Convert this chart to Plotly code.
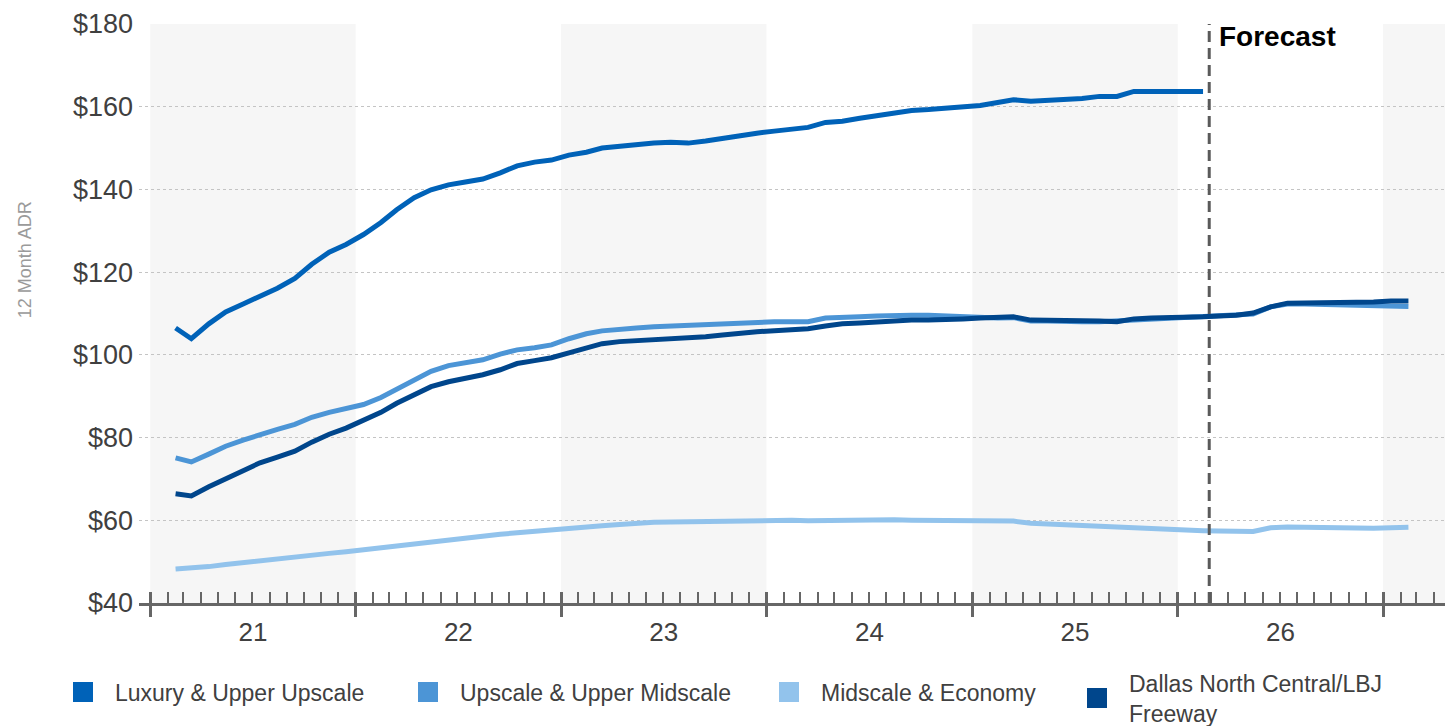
import plotly.graph_objects as go
import pandas as pd

# ---------------- data ----------------
months = pd.date_range("2021-02-01", periods=73, freq="MS") + pd.Timedelta(days=14)

series_names = ["Luxury & Upper Upscale", "Upscale & Upper Midscale",
                "Midscale & Economy", "Dallas North Central/LBJ<br>Freeway"]

luxury = [106.5, 103.9, 107.5, 110.4, 112.3, 114.2, 116.1, 118.5, 121.9, 124.8,
          126.7, 129.1, 132.0, 135.1, 138.0, 139.9, 141.1, 141.8, 142.5, 144.0,
          145.7, 146.6, 147.1, 148.3, 149.0, 150.0, 150.5, 150.9, 151.2, 151.4,
          151.2, 151.7, 152.4, 153.1, 153.6, 154.1, 154.5, 155.0, 156.2, 156.5,
          157.2, 157.9, 158.4, 159.1, 159.3, 159.6, 160.1, 160.3, 161.0, 161.7,
          161.3, 161.5, 161.7, 162.0, 162.5, 162.5, 163.7, 163.7, 163.7, 163.4,
          163.7]

upscale = [75.1, 74.1, 76.0, 77.9, 79.4, 80.8, 82.0, 83.2, 84.9, 86.1,
           87.1, 88.0, 89.7, 91.6, 93.8, 96.0, 97.4, 98.1, 98.8, 100.2,
           101.2, 101.7, 102.4, 103.9, 105.1, 105.8, 106.3, 106.5, 106.8, 107.0,
           107.0, 107.2, 107.5, 107.7, 108.0, 108.0, 108.0, 108.0, 108.9, 108.9,
           109.2, 109.4, 109.6, 109.6, 109.6, 109.4, 109.2, 108.9, 108.9, 109.0,
           108.2, 108.2, 108.0, 108.0, 108.0, 108.2, 108.4, 108.7, 108.9, 109.0,
           109.2, 109.4, 109.6, 109.9, 111.6, 112.3, 112.3, 112.2, 112.1, 112.0,
           111.9, 111.8, 111.7]

midscale = [48.2, 48.4, 48.8, 49.3, 49.8, 50.3, 50.7, 51.1, 51.5, 52.0,
            52.4, 52.9, 53.4, 53.9, 54.4, 54.9, 55.4, 55.8, 56.2, 56.6,
            57.0, 57.4, 57.8, 58.1, 58.4, 58.7, 59.0, 59.3, 59.5, 59.6,
            59.7, 59.8, 59.9, 60.0, 60.1, 60.1, 60.0, 59.9, 60.0, 60.1,
            60.1, 60.2, 60.1, 60.0, 60.0, 60.0, 60.0, 60.0, 59.9, 59.8,
            59.3, 59.1, 58.9, 58.7, 58.5, 58.3, 58.1, 57.9, 57.7, 57.6,
            57.5, 57.4, 57.3, 57.3, 58.2, 58.4, 58.3, 58.2, 58.1, 58.1,
            58.1, 58.2, 58.3]

dallas = [66.4, 65.9, 68.1, 70.0, 71.9, 73.9, 75.3, 76.7, 78.9, 80.8,
          82.3, 84.2, 86.1, 88.3, 90.4, 92.3, 93.5, 94.3, 95.2, 96.4,
          97.9, 98.6, 99.3, 100.5, 101.7, 102.7, 103.2, 103.4, 103.6, 103.9,
          104.1, 104.4, 104.8, 105.3, 105.6, 105.8, 106.0, 106.3, 107.0, 107.5,
          107.7, 108.0, 108.2, 108.4, 108.4, 108.7, 108.7, 108.9, 108.9, 109.2,
          108.4, 108.4, 108.2, 108.2, 108.2, 108.0, 108.7, 108.9, 108.9, 109.2,
          109.2, 109.4, 109.6, 110.1, 111.6, 112.5, 112.5, 112.5, 112.8, 112.8,
          112.8, 113.0, 113.0]

shaded_years = [2021, 2023, 2025, 2027]
forecast_date = "2026-02-26"
x_range = ["2020-12-12", "2027-04-21"]
y_ticks = [40, 60, 80, 100, 120, 140, 160, 180]

colors = ["#0062B8", "#4C95D6", "#92C3EC", "#00468C"]

font_family = "Liberation Sans, Arial, sans-serif"

# ---------------- figure ----------------
fig = go.Figure()
all_series = [luxury, upscale, midscale, dallas]
for name, vals, col in zip(series_names, all_series, colors):
    fig.add_trace(go.Scatter(
        x=months[:len(vals)], y=vals, mode="lines",
        line=dict(color=col, width=5), showlegend=False, hoverinfo="skip"))

legend_ids = ["legend", "legend2", "legend3", "legend4"]
for name, col, lid in zip(series_names, colors, legend_ids):
    fig.add_trace(go.Scatter(
        x=[None], y=[None], mode="markers", name=name, legend=lid,
        marker=dict(symbol="square", size=16, color=col,
                    line=dict(color=col, width=4))))

# shaded year bands
for yr in shaded_years:
    fig.add_shape(type="rect", xref="x", yref="paper",
                  x0=f"{yr}-01-01", x1=f"{yr + 1}-01-01", y0=0, y1=1,
                  fillcolor="#f6f6f6", line=dict(width=0), layer="below")

# forecast line
fig.add_shape(type="line", xref="x", yref="paper",
              x0=forecast_date, x1=forecast_date, y0=0, y1=1,
              line=dict(color="#5a5a5a", width=3, dash="11px,6px"), layer="above")
fig.add_annotation(x=forecast_date, y=0.971, xref="x", yref="paper",
                   text="<b>Forecast</b>", showarrow=False, xanchor="left",
                   yanchor="middle", xshift=8, yshift=4,
                   font=dict(size=28, color="#000000", family=font_family))

# y axis title (annotation so it sits where the reference has it)
fig.add_annotation(x=(25 - 139) / 1306, y=(603 - 257) / 583,
                   xref="paper", yref="paper",
                   text="12 Month ADR", showarrow=False, textangle=-90,
                   xanchor="center", yanchor="middle",
                   font=dict(size=18, color="#9a9a9a", family=font_family))

legend_x = [73, 418, 779, 1087]
legend_y = [692, 692, 692, 698]
layout_legends = {}
for lid, lx, ly in zip(legend_ids, legend_x, legend_y):
    layout_legends[lid] = dict(
        xref="container", yref="container", x=(lx - 22) / 1454, y=1 - ly / 726,
        xanchor="left", yanchor="middle", orientation="h",
        font=dict(size=23, color="#404040", family=font_family),
        itemwidth=54, bgcolor="rgba(0,0,0,0)", itemclick=False,
        itemdoubleclick=False)

fig.update_layout(
    width=1454, height=726,
    margin=dict(l=139, r=9, t=20, b=123, pad=0),
    paper_bgcolor="white", plot_bgcolor="white",
    font=dict(family=font_family, color="#404040"),
    hovermode=False,
    **layout_legends,
    xaxis=dict(
        type="date", range=x_range, dtick="M12", tick0="2021-01-01",
        ticklabelmode="period", tickformat="%y",
        ticks="outside", ticklen=11, tickwidth=3, tickcolor="#666666",
        showline=True, linecolor="#666666", linewidth=3,
        showgrid=False, zeroline=False,
        ticklabelstandoff=-7,
        tickfont=dict(size=26, color="#404040"),
        minor=dict(ticks="inside", ticklen=11, tickwidth=1.5,
                   tickcolor="#666666", dtick="M1", tick0="2021-01-01",
                   showgrid=False),
        fixedrange=True,
    ),
    xaxis2=dict(
        type="date", range=x_range, overlaying="x", side="bottom",
        dtick="M12", tick0="2021-01-01", ticks="inside", ticklen=11,
        tickwidth=3, tickcolor="#666666", showticklabels=False,
        showline=False, showgrid=False, zeroline=False, fixedrange=True,
    ),
    yaxis=dict(
        range=[40, 180], tickvals=y_ticks,
        ticktext=[f"${v}" for v in y_ticks],
        showgrid=True, gridcolor="#c4c4c4", griddash="dot", gridwidth=1,
        zeroline=False, showline=False, ticks="",
        ticklabelstandoff=5,
        tickfont=dict(size=27, color="#404040"), fixedrange=True,
    ),
)

# invisible trace to make sure the overlay axis is drawn
fig.add_trace(go.Scatter(x=[None], y=[None], xaxis="x2", showlegend=False,
                         hoverinfo="skip"))

fig.write_html("out.html")
